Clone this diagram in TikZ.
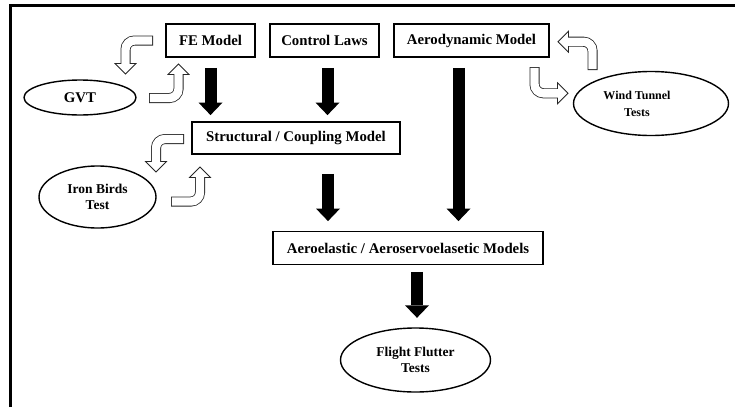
\documentclass[tikz,border=0pt]{standalone}
\usepackage{fontspec}
\setmainfont{Liberation Serif}
\usetikzlibrary{arrows.meta,shapes.geometric,calc}
\colorlet{holc}{black!85}
\newcommand\hollowarrow[3]{%
  \path ($(#3)!10.5pt!(#2)$) coordinate (hb) ($(#3)!9pt!(#2)$) coordinate (hx);
  \path ($(hb)!10.5pt!90:(#3)$) coordinate (h1) ($(hb)!10.5pt!-90:(#3)$) coordinate (h2);
  \filldraw[fill=white, draw=holc, line width=0.8pt] (h1) -- (#3) -- (h2) -- cycle;
  \draw[line width=10pt, holc, rounded corners=9pt] (#1) -- (#2) -- (hb);
  \draw[line width=8.4pt, white, rounded corners=9pt, shorten <=0.8pt] (#1) -- (#2) -- (hx);
}
\begin{document}
\begin{tikzpicture}[x=1pt,y=-1pt,
  box/.style={draw, line width=1.8pt, minimum height=33pt, inner sep=0pt,
    font=\fontsize{14.8}{16}\selectfont\bfseries},
  oval/.style={draw, ellipse, line width=1.4pt, inner sep=0pt, align=center,
    font=\fontsize{13.5}{16.5}\selectfont\bfseries},
  blk/.style={line width=12pt, -{Triangle[length=12.5pt,width=24pt,line width=0pt]}}]
\useasboundingbox (0,0) rectangle (735,407);
% frame
\draw[line width=3pt] (10.5,407) -- (10.5,5) -- (735,5);
% boxes
\node[box, minimum width=89pt]  (fe)     at (210.5,40.5) {FE Model};
\node[box, minimum width=109pt] (cl)     at (324.5,40.5) {Control Laws};
\node[box, minimum width=155pt] (aero)   at (471.5,40.5) {Aerodynamic Model};
\node[box, minimum width=208pt, minimum height=32pt] (struct) at (296,138) {Structural / Coupling Model};
\node[box, minimum width=270pt] (ael)    at (408,248) {Aeroelastic / Aeroservoelasetic Models};
% ellipses
\node[oval, minimum width=112pt, minimum height=35pt, font=\fontsize{14.8}{16.5}\selectfont\bfseries] (gvt) at (80,97.5) {GVT};
\node[oval, minimum width=117pt, minimum height=62pt] (iron) at (97.5,197) {Iron Birds\\Test};
\node[oval, minimum width=155pt, minimum height=64pt, font=\fontsize{12}{17}\selectfont\bfseries] (wt) at (651,103.5) {Wind Tunnel\hspace*{28pt}\\Tests\hspace*{28pt}};
\node[oval, minimum width=150pt, minimum height=64pt] (ff) at (415.5,360) {Flight Flutter\\Tests};
% black arrows
\draw[blk, shorten <=10pt, shorten >=6pt] (fe.south) -- (fe.south |- struct.north);
\draw[blk, shorten <=10pt, shorten >=6pt] ([xshift=3pt]cl.south) -- ([xshift=3pt]cl.south |- struct.north);
\draw[blk, shorten <=10pt, shorten >=9.5pt] ([xshift=-13pt]aero.south) -- ([xshift=-13pt]aero.south |- ael.north);
\draw[blk, shorten <=19pt, shorten >=9.5pt] ([xshift=32pt]struct.south) -- ([xshift=32pt]struct.south |- ael.north);
\draw[blk, shorten <=6.5pt, shorten >=9.5pt] ([xshift=9pt]ael.south) -- ([xshift=9pt]ael.south |- ff.north);
% hollow bent arrows
\coordinate (a1t) at (153,40.5);   \coordinate (a1c) at (125.5,40.5); \coordinate (a1h) at (125.5,74);
\coordinate (a2t) at (149,98);     \coordinate (a2c) at (178.5,98);   \coordinate (a2h) at (178.5,64);
\coordinate (a3t) at (184,139);    \coordinate (a3c) at (156,139);    \coordinate (a3h) at (156,172);
\coordinate (a4t) at (171,201.5);  \coordinate (a4c) at (200,201.5);  \coordinate (a4h) at (200,167);
\coordinate (a5t) at (592.5,70);   \coordinate (a5c) at (592.5,41.7); \coordinate (a5h) at (558,41.7);
\coordinate (a6t) at (534.5,67);   \coordinate (a6c) at (534.5,93.3); \coordinate (a6h) at (568,93.3);
\hollowarrow{a1t}{a1c}{a1h}
\hollowarrow{a2t}{a2c}{a2h}
\hollowarrow{a3t}{a3c}{a3h}
\hollowarrow{a4t}{a4c}{a4h}
\hollowarrow{a5t}{a5c}{a5h}
\hollowarrow{a6t}{a6c}{a6h}
\end{tikzpicture}
\end{document}
